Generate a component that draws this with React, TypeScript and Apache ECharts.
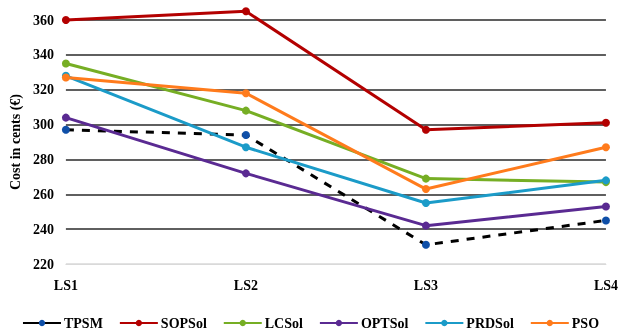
import React, { useEffect, useRef } from "react";
import * as echarts from "echarts";

const categories = ["LS1", "LS2", "LS3", "LS4"];
const tpsm = [297, 294, 231, 245];
const sopsol = [360, 365, 297, 301];
const lcsol = [335, 308, 269, 267];
const optsol = [304, 272, 242, 253];
const prdsol = [328, 287, 255, 268];
const pso = [327, 318, 263, 287];

const FONT = "'Liberation Serif', 'Times New Roman', serif";

export default function App() {
  const ref = useRef<HTMLDivElement>(null);
  useEffect(() => {
    if (!ref.current) return;
    const chart = echarts.init(ref.current, undefined, { renderer: "svg" });
    const mk = (name: string, data: number[], color: string, symColor?: string, dashed?: boolean) => ({
      name,
      type: "line",
      data,
      symbol: "circle",
      symbolSize: 8,
      showSymbol: true,
      clip: false,
      lineStyle: { color, width: 3, type: dashed ? [8, 8] : "solid" },
      itemStyle: { color: symColor || color },
      z: dashed ? 1 : 2,
    });
    chart.setOption({
      animation: false,
      textStyle: { fontFamily: FONT },
      grid: { left: 60, right: 14, top: 20, bottom: 65, containLabel: false },
      xAxis: {
        type: "category",
        data: categories,
        boundaryGap: false,
        axisTick: { show: false },
        axisLine: { show: true, lineStyle: { color: "#d9d9d9", width: 1 } },
        axisLabel: { fontFamily: FONT, fontWeight: "bold", fontSize: 14, color: "#000", margin: 14 },
      },
      yAxis: {
        type: "value",
        min: 220,
        max: 360,
        interval: 20,
        name: "Cost in cents (€)",
        nameLocation: "middle",
        nameGap: 36,
        nameTextStyle: { fontFamily: FONT, fontWeight: "bold", fontSize: 14, color: "#000" },
        axisLine: { show: false },
        axisTick: { show: false },
        axisLabel: { fontFamily: FONT, fontWeight: "bold", fontSize: 14, color: "#000", margin: 12 },
        splitLine: {
          show: true,
          lineStyle: {
            color: ["#d9d9d9", "#2a2a2a", "#2a2a2a", "#2a2a2a", "#2a2a2a", "#2a2a2a", "#2a2a2a", "#2a2a2a"],
            width: 1.5,
          },
        },
      },
      legend: {
        top: 311,
        left: "center",
        itemWidth: 38,
        itemHeight: 8,
        itemGap: 16,
        textStyle: { fontFamily: FONT, fontWeight: "bold", fontSize: 14, color: "#000", padding: [0, 0, 0, -2] },
        data: [
          { name: "TPSM", lineStyle: { type: "solid" } },
          "SOPSol",
          "LCSol",
          "OPTSol",
          "PRDSol",
          "PSO",
        ],
      },
      series: [
        mk("TPSM", tpsm, "#000000", "#0f4fa8", true),
        mk("SOPSol", sopsol, "#b30000"),
        mk("LCSol", lcsol, "#76ae24"),
        mk("OPTSol", optsol, "#5a2a92"),
        mk("PRDSol", prdsol, "#1b9bc8"),
        mk("PSO", pso, "#ff7b1c"),
      ],
    });
    return () => chart.dispose();
  }, []);
  return (
    <div
      ref={ref}
      style={{ position: "fixed", left: 0, top: 0, width: 621, height: 329, overflow: "hidden" }}
    />
  );
}
